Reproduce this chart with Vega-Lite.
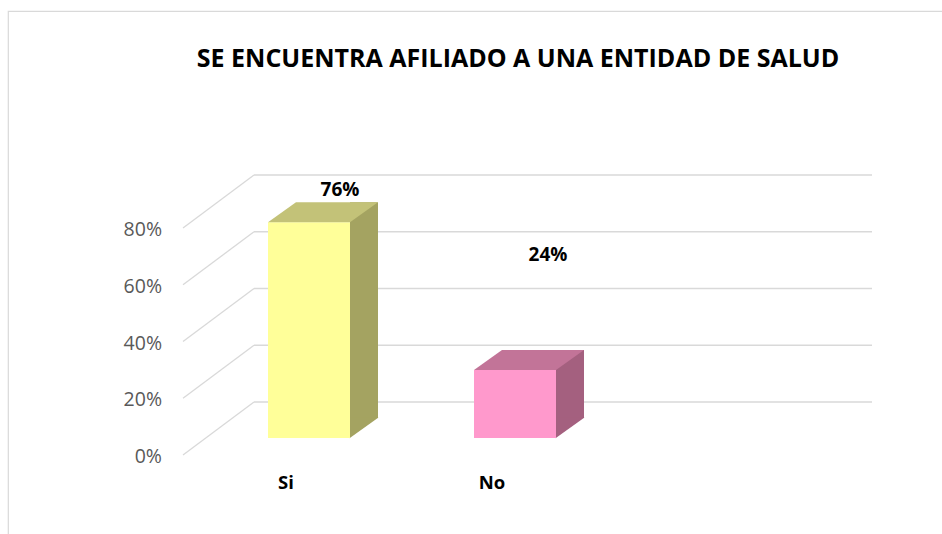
{
  "$schema": "https://vega.github.io/schema/vega-lite/v6.json",
  "width": 940,
  "height": 530,
  "autosize": {"type": "none"},
  "padding": {"left": 8, "top": 11, "right": 0, "bottom": 0},
  "background": "white",
  "config": {"view": {"stroke": "#D9D9D9", "strokeWidth": 1.2}, "font": "Open Sans"},
  "title": {
    "text": "SE ENCUENTRA AFILIADO A UNA ENTIDAD DE SALUD",
    "font": "Open Sans",
    "fontSize": 25,
    "fontWeight": "bold",
    "color": "#000000",
    "anchor": "middle",
    "baseline": "alphabetic",
    "offset": 0,
    "dy": 81,
    "dx": 40
  },
  "datasets": {
    "ticks": [{"t": 0}, {"t": 0.2}, {"t": 0.4}, {"t": 0.6}, {"t": 0.8}],
    "bars": [{"cat": "Si", "v": 0.76}, {"cat": "No", "v": 0.24}]
  },
  "resolve": {"scale": {"x": "independent"}, "axis": {"x": "independent", "y": "independent"}},
  "layer": [
    {
      "data": {"name": "ticks"},
      "encoding": {
        "x": {"datum": 0, "type": "quantitative", "scale": {"domain": [0, 3], "range": [175, 793]}, "axis": null},
        "y": {"field": "t", "type": "quantitative", "scale": {"domain": [0, 1], "range": [444, 160.25]}, "axis": null}
      },
      "layer": [
        {
          "mark": {"type": "rule", "color": "#D9D9D9", "strokeWidth": 1.3, "xOffset": 71, "x2Offset": 71, "yOffset": -53},
          "encoding": {"x2": {"datum": 3}}
        },
        {
          "mark": {"type": "rule", "color": "#D9D9D9", "strokeWidth": 1.3, "x2Offset": 71, "y2Offset": -53},
          "encoding": {"x2": {"datum": 0}, "y2": {"field": "t"}}
        },
        {
          "mark": {"type": "text", "align": "right", "baseline": "middle", "dx": -21, "dy": 2, "font": "Open Sans", "fontSize": 19.5, "color": "#595959"},
          "encoding": {"text": {"field": "t", "type": "quantitative", "format": ".0%"}}
        }
      ]
    },
    {
      "data": {"name": "bars"},
      "resolve": {"scale": {"color": "independent"}},
      "encoding": {
        "x": {
          "field": "cat", "type": "nominal", "sort": null,
          "scale": {"type": "band", "domain": ["Si", "No", " "], "range": [175, 793], "paddingInner": 0.6, "paddingOuter": 0.3},
          "axis": {
            "orient": "bottom", "offset": -59, "domain": false, "ticks": false, "tickSize": 0, "labelPadding": 0,
            "labelBaseline": "middle", "labelAngle": 0, "labelFont": "Open Sans", "labelFontWeight": "bold",
            "labelFontSize": 18.5, "labelColor": "#000000", "title": null
          }
        },
        "y": {"field": "v", "type": "quantitative", "scale": {"domain": [0, 1], "range": [444, 160.25]}, "axis": null}
      },
      "layer": [
        {
          "mark": {"type": "bar", "width": 28, "xOffset": 78, "yOffset": -37},
          "encoding": {"color": {"field": "cat", "type": "nominal", "scale": {"domain": ["Si", "No"], "range": ["#A4A361", "#A4607F"]}, "legend": null}}
        },
        {
          "mark": {"type": "point", "shape": "M40.5,0.3L40.5,-20.5L69.5,-20.5Z", "size": 4, "filled": true, "opacity": 1, "strokeWidth": 0, "xOffset": 23, "yOffset": -17},
          "encoding": {
            "y": {"datum": 0, "type": "quantitative"},
            "color": {"field": "cat", "type": "nominal", "scale": {"domain": ["Si", "No"], "range": ["#A4A361", "#A4607F"]}, "legend": null}
          }
        },
        {
          "mark": {"type": "bar", "width": 82, "xOffset": 23, "yOffset": -17},
          "encoding": {"color": {"field": "cat", "type": "nominal", "scale": {"domain": ["Si", "No"], "range": ["#FFFF99", "#FF99CC"]}, "legend": null}}
        },
        {
          "mark": {"type": "point", "shape": "M-41,0L41,0L69,-20L-13,-20Z", "size": 4, "filled": true, "opacity": 1, "strokeWidth": 0, "xOffset": 23, "yOffset": -17},
          "encoding": {"color": {"field": "cat", "type": "nominal", "scale": {"domain": ["Si", "No"], "range": ["#C3C278", "#C27498"]}, "legend": null}}
        },
        {
          "transform": [{"filter": "datum.cat == 'Si'"}],
          "mark": {"type": "text", "dx": 54, "dy": -49, "font": "Open Sans", "fontWeight": "bold", "fontSize": 19, "color": "#000000"},
          "encoding": {"text": {"field": "v", "type": "quantitative", "format": ".0%"}}
        },
        {
          "transform": [{"filter": "datum.cat == 'No'"}],
          "mark": {"type": "text", "dx": 56, "dy": -132, "font": "Open Sans", "fontWeight": "bold", "fontSize": 19, "color": "#000000"},
          "encoding": {"text": {"field": "v", "type": "quantitative", "format": ".0%"}}
        }
      ]
    }
  ]
}
